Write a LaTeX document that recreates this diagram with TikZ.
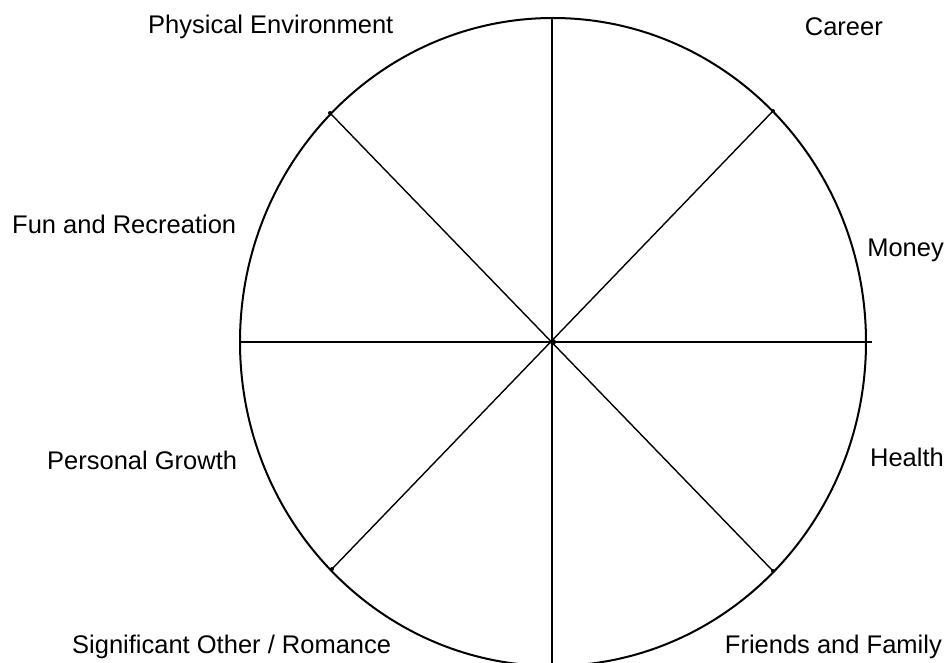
\documentclass[tikz,border=0pt]{standalone}
\usepackage{fontspec}
\setmainfont{Liberation Sans}
\begin{document}
\begin{tikzpicture}[x=1pt,y=-1pt,
  lbl/.style={inner sep=0pt,font=\fontsize{25.5}{28}\selectfont},
  spoke/.style={line width=2.7pt},
  diag/.style={line width=1.4pt},
  rim/.style={line width=2pt}]
\useasboundingbox[fill=white] (0,0) rectangle (946,663);
\coordinate (c) at (553,342);
\draw[rim] (c) ellipse [x radius=313, y radius=324];
\coordinate (top) at (552,17);
\coordinate (bot) at (552,663);
\coordinate (lft) at (241,342);
\coordinate (rgt) at (872,342);
\coordinate (ul) at (330,113);
\coordinate (ur) at (773,111);
\coordinate (ll) at (332,569);
\coordinate (lr) at (773,571);
\draw[spoke] (top) -- (bot);
\draw[spoke] (lft) -- (rgt);
\draw[diag] (ul) -- (lr);
\draw[diag] (ur) -- (ll);
\fill (c) circle (3);
\foreach \p in {ul,ur,ll,lr} \fill (\p) circle (2);
\node[lbl,anchor=west] (pe) at (148,27) {Physical Environment};
\node[lbl,anchor=east] (car) at (883,27) {Career};
\node[lbl,anchor=east] (mon) at (944,250) {Money};
\node[lbl,anchor=west] (fun) at (12,224) {Fun and Recreation};
\node[lbl,anchor=east] (hea) at (944,457) {Health};
\node[lbl,anchor=west] (pg) at (47,460) {Personal Growth};
\node[lbl,anchor=west] (so) at (72,647) {Significant Other / Romance};
\node[lbl,anchor=east] (ff) at (942,647) {Friends and Family};
\end{tikzpicture}
\end{document}
